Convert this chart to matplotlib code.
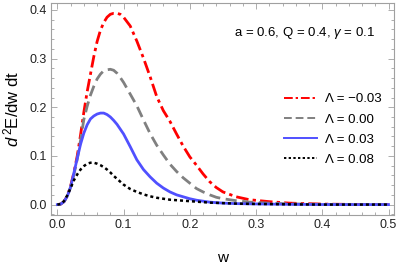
import matplotlib
matplotlib.use("Agg")
import matplotlib.pyplot as plt
from matplotlib.ticker import MultipleLocator

plt.rcParams["font.family"] = ["Liberation Sans", "DejaVu Sans"]
plt.rcParams["mathtext.fontset"] = "custom"
plt.rcParams["mathtext.rm"] = "Liberation Sans"
plt.rcParams["mathtext.it"] = "Liberation Sans:italic"

# frequency grid
w = [0, 0.005, 0.01, 0.015, 0.02, 0.025, 0.03, 0.035, 0.04, 0.045, 0.05, 0.055,
     0.06, 0.065, 0.07, 0.075, 0.08, 0.085, 0.09, 0.095, 0.10, 0.11, 0.12, 0.13,
     0.14, 0.15, 0.16, 0.17, 0.18, 0.19, 0.20, 0.21, 0.22, 0.23, 0.24, 0.25,
     0.27, 0.29, 0.32, 0.35, 0.40, 0.45, 0.50]

# Lambda = -0.03
e_m003 = [0, 0.001, 0.006, 0.018, 0.038, 0.066, 0.100, 0.143, 0.190, 0.232, 0.268, 0.304,
          0.335, 0.358, 0.374, 0.385, 0.391, 0.393, 0.393, 0.391, 0.385, 0.367, 0.336, 0.301,
          0.263, 0.222, 0.193, 0.171, 0.145, 0.120, 0.098, 0.081, 0.063, 0.047, 0.035, 0.026,
          0.016, 0.010, 0.006, 0.003, 0.001, 0.0003, 0.0]
# Lambda = 0.00
e_000 = [0, 0.001, 0.006, 0.017, 0.036, 0.062, 0.093, 0.132, 0.175, 0.202, 0.225, 0.243,
         0.258, 0.268, 0.275, 0.277, 0.278, 0.276, 0.270, 0.261, 0.251, 0.227, 0.203, 0.174,
         0.146, 0.122, 0.102, 0.083, 0.068, 0.055, 0.044, 0.033, 0.026, 0.020, 0.015, 0.012,
         0.008, 0.005, 0.003, 0.0015, 0.0003, 0.0001, 0.0]
# Lambda = 0.03
e_003 = [0, 0.001, 0.006, 0.017, 0.036, 0.065, 0.095, 0.124, 0.147, 0.164, 0.176, 0.182,
         0.186, 0.188, 0.188, 0.185, 0.180, 0.173, 0.165, 0.155, 0.145, 0.119, 0.092, 0.072,
         0.057, 0.044, 0.034, 0.026, 0.020, 0.016, 0.012, 0.009, 0.007, 0.005, 0.004, 0.003,
         0.002, 0.0015, 0.001, 0.0005, 0.0001, 0.0, 0.0]
# Lambda = 0.08
e_008 = [0, 0.001, 0.007, 0.019, 0.034, 0.050, 0.062, 0.072, 0.079, 0.084, 0.086, 0.086,
         0.084, 0.081, 0.077, 0.072, 0.066, 0.059, 0.053, 0.047, 0.041, 0.032, 0.026, 0.021,
         0.017, 0.014, 0.012, 0.010, 0.009, 0.008, 0.007, 0.006, 0.005, 0.004, 0.0035, 0.003,
         0.002, 0.0015, 0.001, 0.0005, 0.0, 0.0, 0.0]

labels = ["Λ = −0.03", "Λ = 0.00", "Λ = 0.03", "Λ = 0.08"]

fig = plt.figure(figsize=(3.99, 2.64), dpi=100)
ax = fig.add_axes([0.128, 0.186, 0.859, 0.803])

ax.plot(w, e_m003, color="#ff0000", lw=2.0, dashes=(4.5, 1.5, 1.2, 1.5), label=labels[0])
ax.plot(w, e_000, color="#808080", lw=2.0, dashes=(4, 2), label=labels[1])
ax.plot(w, e_003, color="#5050ff", lw=2.0, label=labels[2])
ax.plot(w, e_008, color="#000000", lw=1.8, dashes=(1.2, 1.2), label=labels[3])

ax.set_xlim(-0.0095, 0.508)
ax.set_ylim(-0.0212, 0.4144)

ax.xaxis.set_major_locator(MultipleLocator(0.1))
ax.xaxis.set_minor_locator(MultipleLocator(0.02))
ax.yaxis.set_major_locator(MultipleLocator(0.1))
ax.yaxis.set_minor_locator(MultipleLocator(0.02))
ax.xaxis.set_major_formatter(lambda v, p: f"{v:.1f}")
ax.yaxis.set_major_formatter(lambda v, p: f"{v:.1f}")

for s in ax.spines.values():
    s.set_color("#a0a0a0")
    s.set_linewidth(0.8)
ax.tick_params(which="both", direction="in", top=True, right=True,
               color="#a0a0a0", width=0.6, labelsize=9, labelcolor="#222222")
ax.tick_params(which="major", length=4, pad=3)
ax.tick_params(which="minor", length=2)

ax.set_xlabel("w", fontsize=11, labelpad=14)
ax.set_ylabel(r"$\mathit{d}^{\,2}$E/dw dt", fontsize=12, labelpad=6)

ax.text(0.945, 0.858, r"a = 0.6, Q = 0.4, $\mathit{\gamma}$ = 0.1", transform=ax.transAxes,
        ha="right", va="center", fontsize=9.5)

leg = ax.legend(loc="upper left", bbox_to_anchor=(0.66, 0.605), frameon=False, fontsize=9.5,
                handlelength=2.5, handletextpad=0.6, labelspacing=0.6, borderpad=0)
for h in leg.legend_handles:
    h.set_linewidth(1.4)

fig.savefig("out.png", dpi=100)
